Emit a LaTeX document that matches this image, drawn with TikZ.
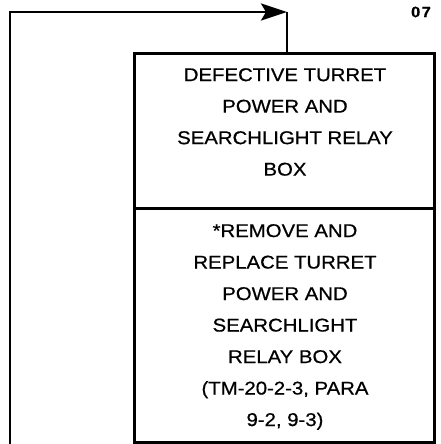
\documentclass[tikz,border=0pt]{standalone}
\usepackage{fontspec}
\setmainfont{Liberation Sans}[FakeStretch=1.1,FakeBold=0.6]
\usetikzlibrary{arrows.meta}
\begin{document}
\begin{tikzpicture}[x=1pt,y=-1pt,line join=miter]
\useasboundingbox (0,0) rectangle (440,444);
\tikzset{
  boxline/.style={draw,line width=2.8pt,inner sep=0pt},
  flow/.style={line width=2.8pt},
  lbl/.style={align=center,font=\fontsize{18.5}{31.5}\selectfont,inner sep=0pt},
}
\node[boxline,minimum width=300pt,minimum height=155pt,anchor=north west] (top) at (133,52) {};
\node[boxline,minimum width=300pt,minimum height=234pt,anchor=north west] (bot) at (133,207) {};
\node[lbl] (t1) at (285,122) {DEFECTIVE TURRET\\POWER AND\\SEARCHLIGHT RELAY\\BOX};
\node[lbl] (t2) at (285,327) {*REMOVE AND\\REPLACE TURRET\\POWER AND\\SEARCHLIGHT\\RELAY BOX\\(TM-20-2-3, PARA\\9-2, 9-3)};
\coordinate (s) at (10,444);
\coordinate (c) at (287,12);
\draw[flow,-{Stealth[length=26pt,width=17pt,inset=5pt]}] (s) |- (c);
\draw[flow] (c) -- (c |- top.north);
\node[font=\bfseries\fontsize{15}{17}\selectfont,inner sep=0pt] (num) at (421,12) {0\hspace{1.5pt}7};
\end{tikzpicture}
\end{document}
